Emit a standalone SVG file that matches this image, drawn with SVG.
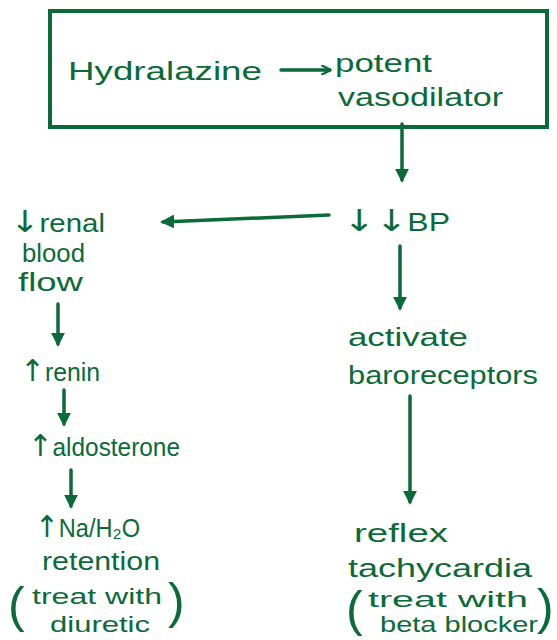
<svg xmlns="http://www.w3.org/2000/svg" width="557" height="640" viewBox="0 0 557 640">
<style>
text{font-family:"Liberation Sans","DejaVu Sans",sans-serif;fill:#0b6b38;font-size:25px}
.s{font-size:22px}
.ar{font-size:30px;font-family:"DejaVu Sans",sans-serif}
.p{font-size:50px;font-family:"Liberation Sans",sans-serif}
.c{stroke:#0b6b38;stroke-width:3.5;fill:none;stroke-linecap:round}
</style>
<defs>
<marker id="ah" viewBox="0 0 10 10" refX="8" refY="5" markerWidth="4" markerHeight="4" orient="auto" markerUnits="strokeWidth">
<path d="M0,0 L10,5 L0,10 z" fill="#0b6b38"/>
</marker>
<marker id="oa" viewBox="0 0 10 10" refX="9" refY="5" markerWidth="3" markerHeight="3" orient="auto" markerUnits="strokeWidth">
<path d="M0,0 L10,5 L0,10" fill="none" stroke="#0b6b38" stroke-width="2"/>
</marker>
</defs>
<rect width="557" height="640" fill="#fff"/>
<g id="top">
<rect x="50" y="11" width="497" height="116" fill="none" stroke="#0b6b38" stroke-width="4"/>
<text x="68" y="80" textLength="194" lengthAdjust="spacingAndGlyphs">Hydralazine</text>
<path class="c" d="M281,70 L330,70" marker-end="url(#oa)"/>
<text x="335" y="72" textLength="97" lengthAdjust="spacingAndGlyphs">potent</text>
<text x="338" y="106" textLength="165" lengthAdjust="spacingAndGlyphs">vasodilator</text>
</g>
<g id="bp"><text x="343" y="231" textLength="107" lengthAdjust="spacingAndGlyphs"><tspan class="ar">↓↓</tspan>BP</text></g>
<g id="renal">
<text x="10" y="232" textLength="95" lengthAdjust="spacingAndGlyphs"><tspan class="ar">↓</tspan>renal</text>
<text x="22" y="262" textLength="63" lengthAdjust="spacingAndGlyphs">blood</text>
<text x="18" y="291" textLength="65" lengthAdjust="spacingAndGlyphs">flow</text>
</g>
<g id="renin"><text x="20" y="381" textLength="80" lengthAdjust="spacingAndGlyphs"><tspan class="ar">↑</tspan>renin</text></g>
<g id="aldo"><text x="28" y="456" textLength="152" lengthAdjust="spacingAndGlyphs"><tspan class="ar">↑</tspan>aldosterone</text></g>
<g id="na">
<text x="35" y="537" textLength="105" lengthAdjust="spacingAndGlyphs"><tspan class="ar">↑</tspan>Na/H₂O</text>
<text x="42" y="570" textLength="118" lengthAdjust="spacingAndGlyphs">retention</text>
<text class="p" x="8" y="622">(</text>
<text class="p" x="168" y="618">)</text>
<text class="s" x="32" y="604" textLength="130" lengthAdjust="spacingAndGlyphs">treat with</text>
<text class="s" x="50" y="632" textLength="100" lengthAdjust="spacingAndGlyphs">diuretic</text>
</g>
<g id="baro">
<text x="348" y="346" textLength="120" lengthAdjust="spacingAndGlyphs">activate</text>
<text x="348" y="384" textLength="190" lengthAdjust="spacingAndGlyphs">baroreceptors</text>
</g>
<g id="reflex">
<text x="354" y="542" textLength="94" lengthAdjust="spacingAndGlyphs">reflex</text>
<text x="348" y="577" textLength="184" lengthAdjust="spacingAndGlyphs">tachycardia</text>
<text class="p" x="346" y="626">(</text>
<text class="p" x="537" y="624">)</text>
<text class="s" x="368" y="607" textLength="160" lengthAdjust="spacingAndGlyphs">treat with</text>
<text class="s" x="380" y="632" textLength="158" lengthAdjust="spacingAndGlyphs">beta blocker</text>
</g>
<g id="connectors">
<path class="c" d="M402,124 L402,180" marker-end="url(#ah)"/>
<path class="c" d="M329,215 L163,222" marker-end="url(#ah)"/>
<path class="c" d="M400,246 L400,308" marker-end="url(#ah)"/>
<path class="c" d="M58,304 L58,344" marker-end="url(#ah)"/>
<path class="c" d="M64,390 L64,424" marker-end="url(#ah)"/>
<path class="c" d="M71,470 L71,506" marker-end="url(#ah)"/>
<path class="c" d="M410,396 L410,502" marker-end="url(#ah)"/>
</g>
</svg>
